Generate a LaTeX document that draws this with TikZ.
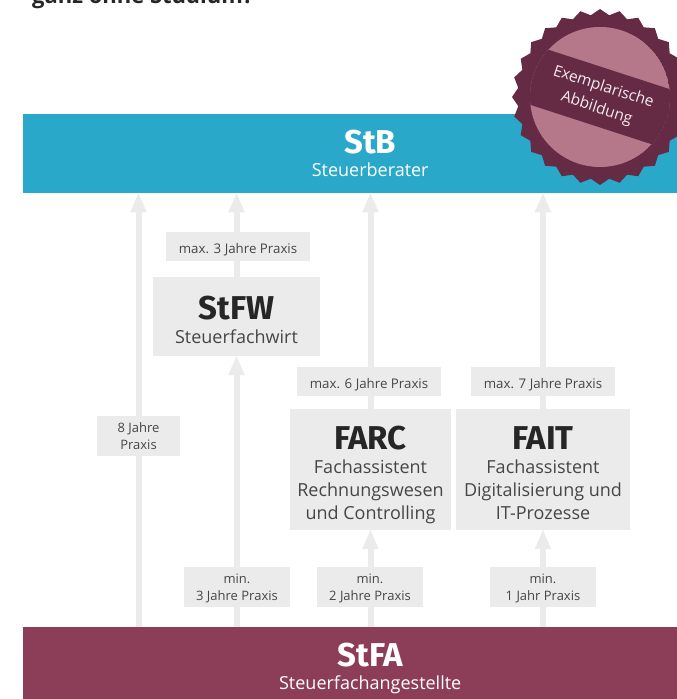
\documentclass[tikz,border=0pt]{standalone}
\usepackage{fontspec}
\setmainfont{Open Sans}
\newfontfamily\headfont{Fira Sans}
\usetikzlibrary{arrows.meta,backgrounds,shapes.geometric}
\definecolor{MyBlue}{RGB}{42, 168, 202}
\definecolor{MyRed}{RGB}{140, 61, 87}
\definecolor{MyGray}{RGB}{235, 235, 235}
\definecolor{MyWine}{RGB}{101, 43, 69}
\definecolor{MyRose}{RGB}{181, 120, 138}
\definecolor{MyText}{RGB}{70, 70, 70}
\newcommand{\titel}[1]{{\headfont\fontsize{33}{36}\selectfont\bfseries #1}\\[1pt]}
\newcommand{\ktitel}[1]{\titel{\rule{0pt}{30pt}\color{black!85}#1}}
\tikzset{
  balken/.style={anchor=north west, inner sep=0pt, align=center, text=white, font=\fontsize{18}{22}\selectfont},
  karte/.style={fill=MyGray, inner sep=0pt, align=center, text=MyText, text depth=0pt, font=\fontsize{18}{23}\selectfont},
  dauer/.style={fill=MyGray, inner sep=0pt, align=center, text=MyText, text depth=0pt, font=\fontsize{13}{17}\selectfont},
  dauerzeile/.style={dauer, execute at begin node=\rule{0pt}{15pt}, font=\fontsize{13.3}{17}\selectfont, minimum width=144pt, minimum height=29pt},
  pfeil/.style={draw=MyGray, line width=6pt, shorten >=-1pt, -{Triangle[length=20pt,width=15pt]}},
}
\begin{document}
\begin{tikzpicture}[x=1pt,y=1pt]
  \useasboundingbox (0,0) rectangle (677,699);
  \clip (0,0) rectangle (677,699);
  \node[anchor=base west, inner sep=0pt, text=black!85, font=\fontsize{22}{26}\selectfont\bfseries] (frage) at (32,695) {ganz ohne Studium?};
  % balken
  \node[balken, fill=MyBlue, minimum width=694pt, minimum height=79pt] (stb) at (23,585) {\titel{StB}Steuerberater};
  \node[balken, fill=MyRed, minimum width=694pt, minimum height=82pt] (stfa) at (23,72) {\titel{StFA}Steuerfachangestellte};
  % karten
  \node[karte, minimum width=167pt, minimum height=79pt] (stfw) at (236.5,382.5) {\ktitel{StFW}Steuerfachwirt};
  \node[karte, minimum width=161pt, minimum height=121pt] (farc) at (370.5,229.5) {\ktitel{FARC}Fachassistent\\Rechnungswesen\\und Controlling};
  \node[karte, minimum width=174pt, minimum height=121pt] (fait) at (543,229.5) {\ktitel{FAIT}Fachassistent\\Digitalisierung und\\IT-Prozesse};
  % dauer
  \node[dauerzeile] (max3) at (238,452.5) {max. 3 Jahre Praxis};
  \node[dauerzeile] (max6) at (369,317.5) {max. 6 Jahre Praxis};
  \node[dauerzeile] (max7) at (543,317.5) {max. 7 Jahre Praxis};
  \node[dauer, minimum width=83pt, minimum height=40pt] (acht) at (138.5,263) {8 Jahre\\Praxis};
  \node[dauer, minimum width=106pt, minimum height=40pt] (min3) at (237,112) {min.\\3 Jahre Praxis};
  \node[dauer, minimum width=106pt, minimum height=40pt] (min2) at (370,112) {min.\\2 Jahre Praxis};
  \node[dauer, minimum width=106pt, minimum height=40pt] (min1) at (543,112) {min.\\1 Jahr Praxis};
  % pfeile
  \begin{scope}[on background layer]
    \draw[pfeil] (acht |- stfa.north) -- (acht |- stb.south);
    \draw[pfeil] (stfw |- stfa.north) -- (stfw.south);
    \draw[pfeil] (stfw.north) -- (stfw |- stb.south);
    \draw[pfeil] (farc |- stfa.north) -- (farc.south);
    \draw[pfeil] (farc.north) -- (farc |- stb.south);
    \draw[pfeil] (fait |- stfa.north) -- (fait.south);
    \draw[pfeil] (fait.north) -- (fait |- stb.south);
  \end{scope}
  % siegel
  \node[star, star points=28, star point ratio=1.07, minimum size=176pt, inner sep=0pt, fill=MyWine] (siegel) at (600,602) {};
  \begin{scope}
    \clip (siegel.center) circle (70pt);
    \fill[MyRose] (siegel.center) circle (70pt);
    \fill[MyWine, rotate around={-18:(siegel.center)}] ([shift={(-90pt,-29pt)}]siegel.center) rectangle ([shift={(90pt,29pt)}]siegel.center);
  \end{scope}
  \node[rotate=-18, inner sep=0pt, align=center, text=white!85!MyRose, font=\fontsize{15.5}{22}\selectfont] (muster) at ([shift={(0pt,-1pt)}]siegel.center) {Exemplarische\\Abbildung};
\end{tikzpicture}
\end{document}
